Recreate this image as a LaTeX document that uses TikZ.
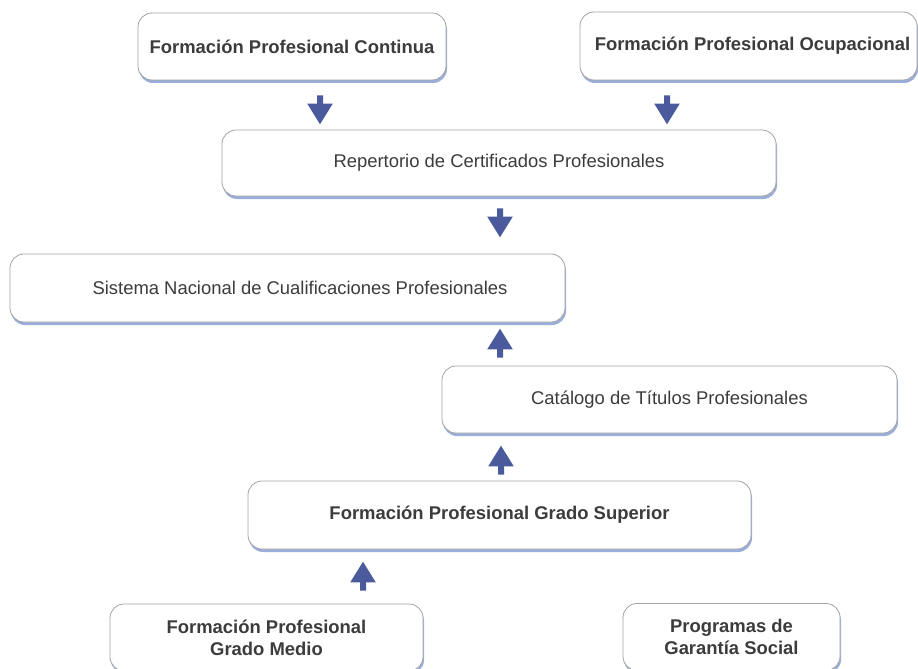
\documentclass[tikz,border=0pt]{standalone}
\usepackage{fontspec}
\setmainfont{Liberation Sans}
\usetikzlibrary{shadows,arrows.meta}

\definecolor{boxline}{HTML}{A3A3A3}
\definecolor{boxshade}{HTML}{9AAED9}
\definecolor{arrowblue}{HTML}{4B5A9C}
\definecolor{txtgray}{HTML}{3C3C3C}

\begin{document}
\begin{tikzpicture}[x=1bp, y=-1bp,
	box/.style={draw=boxline, line width=0.8bp, fill=white, rounded corners=14bp,
		text=txtgray, font=\fontsize{18.5}{22}\selectfont, align=center, inner sep=0pt,
		drop shadow={shadow xshift=1bp, shadow yshift=-3bp, fill=boxshade, opacity=1}},
	bbox/.style={box, font=\fontsize{18.5}{22}\selectfont\bfseries},
	blk/.style={arrowblue, line width=6bp, -{Triangle[width=24bp, length=21bp]}}]
	\useasboundingbox (0,0) rectangle (918,669);
	% boxes
	\node[bbox, minimum width=308bp, minimum height=67bp] (fpc) at (292,46.5) {Formación Profesional Continua};
	\node[bbox, minimum width=337bp, minimum height=68bp] (fpo) at (748.5,46) {\hspace*{8bp}Formación Profesional Ocupacional};
	\node[box, minimum width=554bp, minimum height=66bp] (rep) at (499,163) {Repertorio de Certificados Profesionales};
	\node[box, minimum width=555bp, minimum height=68bp] (snc) at (287.5,288) {\hspace*{25bp}Sistema Nacional de Cualificaciones Profesionales};
	\node[box, minimum width=455bp, minimum height=67bp] (cat) at (669.5,399.5) {Catálogo de Títulos Profesionales};
	\node[bbox, minimum width=503bp, minimum height=68bp] (sup) at (499.5,515) {Formación Profesional Grado Superior};
	\node[bbox, minimum width=313bp, minimum height=67bp] (med) at (266.5,637.5) {Formación Profesional\\Grado Medio};
	\node[bbox, minimum width=217bp, minimum height=67bp] (gar) at (731.5,637) {Programas de\\Garantía Social};
	% arrows
	\draw[blk] ([xshift=28bp, yshift=-15bp]fpc.south) -- ([xshift=-179bp, yshift=5bp]rep.north);
	\draw[blk] ([xshift=-81.5bp, yshift=-15bp]fpo.south) -- ([xshift=168bp, yshift=5bp]rep.north);
	\draw[blk] ([xshift=1bp, yshift=-12bp]rep.south) -- ([xshift=212.5bp, yshift=16bp]snc.north);
	\draw[blk] ([xshift=-169.5bp, yshift=8bp]cat.north) -- ([xshift=212.5bp, yshift=-6bp]snc.south);
	\draw[blk] ([xshift=1.5bp, yshift=6bp]sup.north) -- ([xshift=-168.5bp, yshift=-12bp]cat.south);
	\draw[blk] ([xshift=96.5bp, yshift=13bp]med.north) -- ([xshift=-136.5bp, yshift=-12bp]sup.south);
\end{tikzpicture}
\end{document}
